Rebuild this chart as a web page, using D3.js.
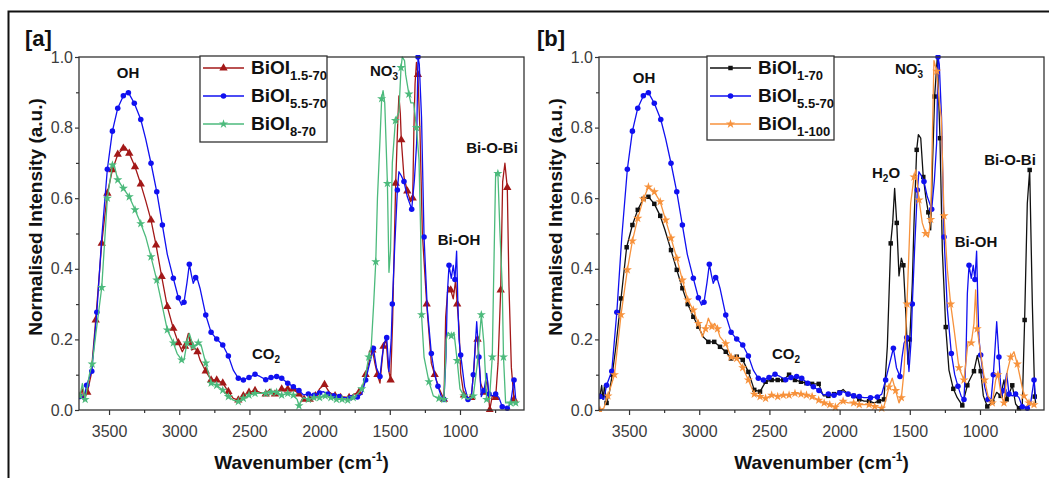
<!DOCTYPE html>
<html><head><meta charset="utf-8">
<script src="https://cdn.jsdelivr.net/npm/d3@7"></script>
<style>body{margin:0;background:#fff;} svg{display:block;font-family:Arial,"Liberation Sans",sans-serif;}</style>
</head><body><svg id="c" width="1049" height="478"></svg>
<script>
// ---------- data ----------
const xMajorTicks=[3500,3000,2500,2000,1500,1000];
const xMinorTicks=[3250,2750,2250,1750,1250,750];
const yMajorTicks=[0,0.2,0.4,0.6,0.8,1.0];
const yMinorTicks=[0.1,0.3,0.5,0.7,0.9];
const xDomain=[3714,544];

const legendA=['1.5-70','5.5-70','8-70'];
const legendB=['1-70','5.5-70','1-100'];

const biol15_70=[[3707,0.038],[3690,0.06],[3679,0.028],[3655,0.05],[3628,0.099],[3595,0.255],[3552,0.472],[3512,0.614],[3476,0.68],[3438,0.724],[3398,0.741],[3385,0.745],[3356,0.727],[3315,0.689],[3274,0.64],[3239,0.593],[3201,0.538],[3165,0.467],[3125,0.378],[3085,0.293],[3042,0.231],[3006,0.19],[2978,0.165],[2959,0.18],[2935,0.217],[2920,0.19],[2911,0.17],[2887,0.175],[2870,0.165],[2852,0.142],[2811,0.11],[2773,0.085],[2733,0.085],[2690,0.076],[2650,0.052],[2615,0.033],[2579,0.028],[2543,0.04],[2503,0.05],[2460,0.055],[2425,0.05],[2384,0.045],[2354,0.059],[2318,0.045],[2270,0.059],[2227,0.059],[2187,0.059],[2147,0.045],[2110,0.03],[2070,0.03],[2030,0.04],[2000,0.06],[1965,0.072],[1930,0.05],[1890,0.04],[1850,0.035],[1826,0.037],[1790,0.035],[1755,0.045],[1720,0.05],[1690,0.07],[1672,0.1],[1645,0.14],[1624,0.17],[1605,0.13],[1588,0.1],[1570,0.076],[1555,0.14],[1545,0.18],[1526,0.2],[1512,0.12],[1494,0.085],[1480,0.25],[1470,0.434],[1458,0.642],[1442,0.83],[1435,0.89],[1425,0.84],[1418,0.765],[1399,0.66],[1375,0.62],[1351,0.59],[1337,0.6],[1328,0.8],[1320,0.925],[1310,0.985],[1300,0.95],[1285,0.79],[1268,0.5],[1237,0.3],[1204,0.132],[1180,0.1],[1150,0.062],[1114,0.03],[1102,0.264],[1085,0.35],[1066,0.34],[1048,0.315],[1031,0.368],[1020,0.3],[1007,0.236],[995,0.104],[972,0.042],[943,0.03],[920,0.035],[900,0.12],[888,0.203],[875,0.2],[853,0.076],[829,0.05],[805,0.085],[788,0.0],[770,0.04],[746,0.035],[729,0.132],[710,0.34],[696,0.647],[680,0.699],[663,0.63],[651,0.35],[634,0.12],[615,0.03],[603,0.03]];

const biol55_70=[[3707,0.038],[3680,0.03],[3660,0.07],[3623,0.11],[3587,0.277],[3552,0.488],[3512,0.682],[3476,0.79],[3438,0.855],[3398,0.89],[3375,0.898],[3362,0.899],[3320,0.869],[3274,0.823],[3239,0.768],[3201,0.699],[3160,0.618],[3120,0.524],[3085,0.441],[3042,0.373],[3006,0.318],[2983,0.297],[2966,0.305],[2945,0.36],[2928,0.413],[2912,0.38],[2900,0.359],[2883,0.375],[2870,0.37],[2852,0.345],[2811,0.269],[2773,0.22],[2733,0.201],[2690,0.184],[2650,0.153],[2615,0.113],[2579,0.09],[2543,0.085],[2503,0.092],[2460,0.101],[2425,0.095],[2384,0.086],[2346,0.092],[2306,0.095],[2270,0.09],[2227,0.076],[2187,0.066],[2147,0.055],[2116,0.043],[2080,0.045],[2040,0.042],[2000,0.048],[1975,0.052],[1940,0.045],[1900,0.04],[1860,0.038],[1826,0.035],[1780,0.035],[1731,0.037],[1700,0.045],[1672,0.085],[1645,0.13],[1617,0.175],[1595,0.12],[1570,0.095],[1555,0.15],[1541,0.189],[1522,0.205],[1506,0.109],[1490,0.2],[1482,0.3],[1465,0.463],[1446,0.623],[1435,0.675],[1420,0.665],[1399,0.647],[1375,0.604],[1344,0.569],[1325,0.65],[1309,0.755],[1299,1.0],[1290,0.98],[1274,0.83],[1256,0.49],[1233,0.288],[1204,0.16],[1180,0.1],[1157,0.067],[1133,0.038],[1114,0.03],[1100,0.15],[1090,0.33],[1078,0.41],[1062,0.373],[1048,0.41],[1036,0.37],[1024,0.45],[1015,0.3],[1007,0.2],[995,0.156],[967,0.066],[943,0.03],[920,0.033],[905,0.1],[895,0.16],[881,0.25],[865,0.15],[848,0.038],[829,0.055],[810,0.104],[793,0.045],[770,0.04],[746,0.045],[722,0.035],[699,0.009],[663,0.005],[639,0.02],[615,0.085],[603,0.03]];

const biol8_70=[[3707,0.04],[3690,0.075],[3670,0.03],[3640,0.1],[3620,0.13],[3595,0.212],[3552,0.347],[3512,0.6],[3476,0.694],[3465,0.697],[3438,0.652],[3398,0.628],[3356,0.604],[3315,0.567],[3274,0.528],[3239,0.491],[3201,0.434],[3160,0.368],[3125,0.303],[3085,0.227],[3042,0.19],[3015,0.16],[2983,0.142],[2966,0.142],[2945,0.19],[2928,0.217],[2900,0.18],[2864,0.19],[2845,0.185],[2811,0.133],[2773,0.076],[2733,0.07],[2690,0.056],[2650,0.038],[2615,0.028],[2579,0.024],[2543,0.033],[2503,0.042],[2460,0.047],[2425,0.047],[2384,0.047],[2346,0.05],[2306,0.05],[2270,0.042],[2227,0.047],[2187,0.042],[2160,0.03],[2147,0.012],[2116,0.035],[2080,0.03],[2040,0.035],[2000,0.035],[1960,0.04],[1920,0.035],[1880,0.03],[1840,0.03],[1800,0.028],[1760,0.035],[1731,0.045],[1700,0.06],[1672,0.1],[1650,0.15],[1632,0.18],[1615,0.3],[1600,0.42],[1588,0.6],[1570,0.764],[1558,0.882],[1548,0.905],[1536,0.87],[1517,0.642],[1506,0.39],[1495,0.45],[1482,0.70],[1460,0.82],[1435,0.844],[1420,0.97],[1411,1.0],[1395,0.99],[1387,0.95],[1364,0.895],[1350,0.87],[1330,0.87],[1310,0.8],[1292,0.71],[1280,0.5],[1274,0.27],[1256,0.15],[1221,0.08],[1190,0.04],[1150,0.033],[1114,0.03],[1097,0.2],[1085,0.22],[1062,0.21],[1043,0.22],[1020,0.14],[1000,0.06],[972,0.04],[943,0.03],[905,0.04],[877,0.13],[848,0.27],[830,0.19],[810,0.03],[790,0.03],[770,0.15],[763,0.31],[746,0.67],[730,0.67],[715,0.5],[699,0.35],[690,0.15],[675,0.02],[640,0.02],[603,0.02]];

const biol1_70=[[3707,0.04],[3695,0.07],[3685,0.03],[3675,0.07],[3660,0.02],[3640,0.05],[3620,0.1],[3595,0.175],[3557,0.316],[3517,0.461],[3476,0.524],[3438,0.567],[3398,0.598],[3362,0.604],[3320,0.584],[3278,0.55],[3244,0.51],[3201,0.453],[3160,0.397],[3120,0.345],[3082,0.3],[3042,0.264],[3006,0.236],[2971,0.207],[2935,0.193],[2893,0.193],[2852,0.179],[2811,0.165],[2773,0.146],[2733,0.151],[2690,0.142],[2650,0.108],[2608,0.057],[2567,0.052],[2527,0.08],[2484,0.085],[2441,0.085],[2401,0.085],[2360,0.1],[2318,0.085],[2275,0.08],[2236,0.076],[2196,0.074],[2149,0.074],[2116,0.04],[2080,0.04],[2040,0.045],[2000,0.05],[1975,0.058],[1940,0.045],[1900,0.04],[1860,0.03],[1826,0.025],[1790,0.025],[1755,0.02],[1720,0.025],[1684,0.03],[1660,0.18],[1636,0.472],[1622,0.53],[1608,0.628],[1593,0.53],[1577,0.38],[1560,0.43],[1546,0.41],[1529,0.28],[1513,0.13],[1500,0.2],[1482,0.36],[1470,0.53],[1451,0.737],[1439,0.78],[1422,0.77],[1404,0.66],[1385,0.6],[1368,0.56],[1351,0.51],[1338,0.7],[1323,0.888],[1304,1.0],[1285,0.77],[1268,0.45],[1244,0.235],[1221,0.113],[1190,0.06],[1162,0.035],[1126,0.013],[1090,0.07],[1080,0.08],[1043,0.11],[1019,0.155],[995,0.11],[976,0.04],[948,0.01],[912,0.023],[881,0.05],[853,0.04],[829,0.085],[810,0.03],[793,0.045],[770,0.07],[746,0.017],[722,0.005],[699,0.01],[682,0.255],[663,0.585],[646,0.68],[627,0.3],[610,0.038],[603,0.02]];

const biol1_100=[[3707,0.0],[3680,0.005],[3650,0.04],[3604,0.1],[3557,0.27],[3512,0.397],[3476,0.479],[3438,0.543],[3398,0.598],[3362,0.632],[3320,0.618],[3278,0.59],[3239,0.538],[3201,0.487],[3160,0.43],[3120,0.368],[3082,0.312],[3042,0.283],[3006,0.245],[2978,0.207],[2955,0.23],[2935,0.26],[2910,0.236],[2890,0.245],[2870,0.23],[2852,0.207],[2811,0.188],[2773,0.15],[2733,0.146],[2690,0.12],[2650,0.085],[2608,0.045],[2567,0.038],[2527,0.033],[2484,0.042],[2441,0.038],[2401,0.042],[2360,0.042],[2318,0.047],[2275,0.045],[2236,0.042],[2196,0.038],[2149,0.028],[2110,0.02],[2070,0.015],[2030,0.008],[2000,0.02],[1975,0.025],[1940,0.02],[1900,0.02],[1860,0.015],[1826,0.015],[1790,0.015],[1750,0.01],[1700,0.005],[1684,0.01],[1648,0.065],[1625,0.09],[1601,0.055],[1577,0.02],[1560,0.035],[1541,0.11],[1520,0.3],[1506,0.45],[1494,0.585],[1470,0.66],[1458,0.68],[1434,0.595],[1411,0.53],[1387,0.5],[1368,0.49],[1351,0.54],[1339,0.78],[1328,0.99],[1308,0.96],[1292,0.88],[1276,0.83],[1256,0.55],[1233,0.4],[1209,0.3],[1185,0.23],[1150,0.12],[1114,0.085],[1085,0.193],[1062,0.19],[1043,0.245],[1031,0.34],[1020,0.23],[995,0.16],[967,0.085],[943,0.04],[912,0.02],[888,0.085],[872,0.1],[848,0.04],[829,0.02],[805,0.11],[781,0.15],[758,0.165],[734,0.13],[710,0.085],[687,0.04],[651,0.02],[615,0.015],[603,0.01]];

// ---------- drawing ----------
const svg=d3.select('#c');
svg.append('rect').attr('x',8.5).attr('y',11.5).attr('width',1100).attr('height',600)
  .attr('fill','none').attr('stroke','#111').attr('stroke-width',2);

const PL=79, PR=524, PT=57, PB=410;
const sym={tri:d3.symbolTriangle,circ:d3.symbolCircle,star:d3.symbolStar,sq:d3.symbolSquare};

function drawSeries(g,data,x,y,color,shape,size){
  const line=d3.line().x(d=>x(d[0])).y(d=>y(d[1]));
  g.append('path').datum(data).attr('d',line).attr('fill','none')
    .attr('stroke',color).attr('stroke-width',1.3).attr('stroke-linejoin','round');
  let last=-1e9; const pts=[];
  data.forEach(d=>{const px=x(d[0]); if(px-last>=5){pts.push(d);last=px;}});
  g.selectAll(null).data(pts).enter().append('path')
    .attr('d',d3.symbol().type(sym[shape]).size(size))
    .attr('transform',d=>`translate(${x(d[0])},${y(d[1])})`)
    .attr('fill',color);
}

function subText(g,xx,yy,parts,anchor){
  const t=g.append('text').attr('x',xx).attr('y',yy).attr('font-weight','bold')
    .attr('text-anchor',anchor||'start').attr('fill','#111');
  parts.forEach(p=>{
    const s=t.append('tspan').text(p.t).attr('font-size',p.fs);
    if(p.dy) s.attr('dy',p.dy);
    if(p.dx) s.attr('dx',p.dx);
  });
  return t;
}

function panel(ox,tag,series,legendNames,legend,ann){
  const x=d3.scaleLinear().domain(xDomain).range([PL+ox,PR+ox]);
  const y=d3.scaleLinear().domain([0,1]).range([PB,PT]);
  const g=svg.append('g');
  const cid='clip'+tag;
  g.append('clipPath').attr('id',cid).append('rect')
    .attr('x',PL+ox).attr('y',PT-2).attr('width',PR-PL).attr('height',PB-PT+4);
  // axes
  const xa=g.append('g').attr('transform',`translate(0,${PB})`)
    .call(d3.axisBottom(x).tickValues(xMajorTicks).tickSize(5).tickPadding(11).tickFormat(d3.format('d')));
  g.append('g').attr('transform',`translate(0,${PB})`)
    .call(d3.axisBottom(x).tickValues(xMinorTicks).tickSize(3).tickFormat(''));
  g.append('g').attr('transform',`translate(${PL+ox},0)`)
    .call(d3.axisLeft(y).tickValues(yMajorTicks).tickSize(4).tickPadding(2).tickFormat(d3.format('.1f')));
  g.append('g').attr('transform',`translate(${PL+ox},0)`)
    .call(d3.axisLeft(y).tickValues(yMinorTicks).tickSize(3).tickFormat(''));
  g.selectAll('.domain').remove();
  g.selectAll('.tick line').attr('stroke','#333').attr('stroke-width',1.2);
  g.selectAll('.tick text').attr('font-size',16).attr('fill','#3c3c3c').attr('font-family','Arial,"Liberation Sans",sans-serif');
  // series
  const sg=g.append('g').attr('clip-path',`url(#${cid})`);
  series.forEach(s=>drawSeries(sg,s.data,x,y,s.color,s.shape,s.size));
  // frame
  g.append('rect').attr('x',PL+ox).attr('y',PT).attr('width',PR-PL).attr('height',PB-PT)
    .attr('fill','none').attr('stroke','#333').attr('stroke-width',1.3);
  // axis titles
  const xt=g.append('text').attr('x',(PL+PR)/2+ox).attr('y',469).attr('text-anchor','middle')
    .attr('font-weight','bold').attr('font-size',19).attr('fill','#111');
  xt.append('tspan').text('Wavenumber (cm');
  xt.append('tspan').text('-1').attr('font-size',12).attr('dy',-8);
  xt.append('tspan').text(')').attr('dy',8);
  g.append('text').attr('transform',`translate(${42+ox},217) rotate(-90)`).attr('text-anchor','middle')
    .attr('font-weight','bold').attr('font-size',19).attr('fill','#111').text('Normalised Intensity (a.u.)');
  // panel tag
  g.append('text').attr('x',25+ox+(tag==='b'?-8:0)).attr('y',46).attr('font-weight','bold').attr('font-size',22)
    .attr('fill','#111').text('['+tag+']');
  // legend
  g.append('rect').attr('x',legend.x).attr('y',56).attr('width',legend.w).attr('height',legend.h)
    .attr('fill','#fff').attr('stroke','#333').attr('stroke-width',1.3);
  series.forEach((s,i)=>{
    const ly=68+i*28;
    g.append('line').attr('x1',legend.x+3).attr('x2',legend.x+44).attr('y1',ly).attr('y2',ly)
      .attr('stroke',s.color).attr('stroke-width',1.3);
    g.append('path').attr('d',d3.symbol().type(sym[s.shape]).size(s.size)())
      .attr('transform',`translate(${legend.x+23.5},${ly})`).attr('fill',s.color);
    subText(g,legend.x+51,ly+6,[{t:'BiOI',fs:19},{t:legendNames[i],fs:13,dy:6}]);
  });
  // annotations
  ann.forEach(a=>subText(g,a.x+ox,a.y,a.parts,a.anchor));
}

const annA=[
  {x:128,y:78,anchor:'middle',parts:[{t:'OH',fs:15}]},
  {x:370,y:76,parts:[{t:'NO',fs:15},{t:'3',fs:10,dy:4},{t:'-',fs:11,dy:-11,dx:-6}]},
  {x:492,y:153,anchor:'middle',parts:[{t:'Bi-O-Bi',fs:15}]},
  {x:459,y:245,anchor:'middle',parts:[{t:'Bi-OH',fs:15}]},
  {x:252,y:359,parts:[{t:'CO',fs:15},{t:'2',fs:10,dy:4}]}
];
const annB=[
  {x:124,y:83,anchor:'middle',parts:[{t:'OH',fs:15}]},
  {x:375,y:74,parts:[{t:'NO',fs:15},{t:'3',fs:10,dy:4},{t:'-',fs:11,dy:-11,dx:-6}]},
  {x:352,y:178,parts:[{t:'H',fs:15},{t:'2',fs:10,dy:4},{t:'O',fs:15,dy:-4}]},
  {x:490,y:165,anchor:'middle',parts:[{t:'Bi-O-Bi',fs:15}]},
  {x:456,y:247,anchor:'middle',parts:[{t:'Bi-OH',fs:15}]},
  {x:252,y:359,parts:[{t:'CO',fs:15},{t:'2',fs:10,dy:4}]}
];

panel(0,'a',[
  {data:biol15_70,color:'#a31818',shape:'tri',size:30},
  {data:biol55_70,color:'#1010f0',shape:'circ',size:24},
  {data:biol8_70,color:'#4cba7c',shape:'star',size:26}
],legendA,{x:200,w:127,h:86},annA);

panel(520,'b',[
  {data:biol1_70,color:'#111111',shape:'sq',size:20},
  {data:biol55_70,color:'#1010f0',shape:'circ',size:24},
  {data:biol1_100,color:'#f7923c',shape:'star',size:26}
],legendB,{x:707,w:127,h:84},annB);
</script></body></html>
